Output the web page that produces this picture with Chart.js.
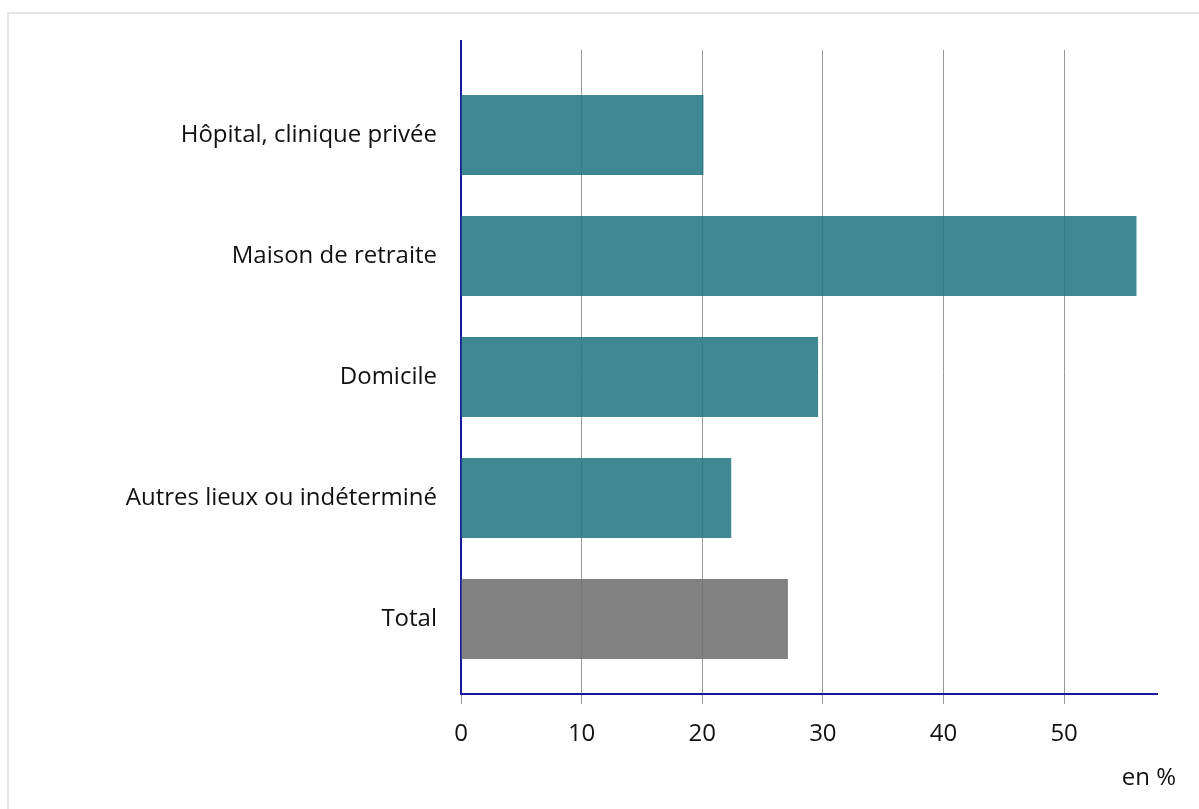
<!DOCTYPE html>
<html lang="fr">
<head>
<meta charset="utf-8">
<title>Lieu de décès</title>
<script src="https://cdn.jsdelivr.net/npm/chart.js@4/dist/chart.umd.min.js"></script>
<style>
    html, body { margin: 0; padding: 0; background: #fff; }
    body { width: 1199px; height: 809px; overflow: hidden; position: relative; }
    .frame {
        position: absolute; left: 7px; top: 12px; width: 1200px; height: 800px;
        border-left: 2px solid #e6e6e6; border-top: 2px solid #e6e6e6;
    }
    #chartWrap { position: absolute; left: 0; top: 0; width: 1199px; height: 809px; }
</style>
</head>
<body>
<div class="frame"></div>
<div id="chartWrap"><canvas id="chart" width="1199" height="809"></canvas></div>
<script>
const categories = ['Hôpital, clinique privée', 'Maison de retraite', 'Domicile', 'Autres lieux ou indéterminé', 'Total'];
const values = [20.1, 56.0, 29.6, 22.4, 27.1];
const xTicks = [0, 10, 20, 30, 40, 50];
const xMax = 57.7;
const unitLabel = 'en %';

const teal = 'rgba(36, 118, 130, 0.88)';
const grey = 'rgba(115, 115, 115, 0.9)';
const axisBlue = '#1a1aa0';

Chart.defaults.font.family = '"Open Sans", "Noto Sans", sans-serif';
Chart.defaults.font.size = 24;
Chart.defaults.color = '#111';

const extras = {
    id: 'extras',
    afterDraw(chart) {
        const ctx = chart.ctx;
        const area = chart.chartArea;
        ctx.save();
        // axe vertical qui dépasse un peu en haut
        ctx.strokeStyle = axisBlue;
        ctx.lineWidth = 2;
        ctx.beginPath();
        ctx.moveTo(area.left, area.top - 10);
        ctx.lineTo(area.left, area.top);
        ctx.stroke();
        // unité
        ctx.fillStyle = '#111';
        ctx.font = '24px "Open Sans", "Noto Sans", sans-serif';
        ctx.textAlign = 'right';
        ctx.textBaseline = 'middle';
        ctx.fillText(unitLabel, 1176, 778);
        ctx.restore();
    }
};

new Chart(document.getElementById('chart'), {
    type: 'bar',
    data: {
        datasets: [{
            data: values.map((v, i) => ({ x: v, y: i })),
            backgroundColor: values.map((v, i) => i === values.length - 1 ? grey : teal),
            borderWidth: 0,
            barPercentage: 0.66,
            categoryPercentage: 1
        }]
    },
    options: {
        indexAxis: 'y',
        responsive: false,
        animation: false,
        maintainAspectRatio: false,
        layout: { padding: { left: 0, right: 42, top: 50, bottom: 0 } },
        plugins: { legend: { display: false }, tooltip: { enabled: false } },
        scales: {
            x: {
                type: 'linear',
                min: 0,
                max: xMax,
                afterBuildTicks: s => { s.ticks = xTicks.map(v => ({ value: v })); },
                afterFit: s => { s.height = 115; },
                grid: { color: '#999', lineWidth: 1, tickLength: 10 },
                border: { color: axisBlue, width: 2 },
                ticks: { padding: 16, color: '#111' }
            },
            y: {
                type: 'linear',
                reverse: true,
                offset: false,
                min: -0.702,
                max: 4.62,
                afterBuildTicks: s => { s.ticks = categories.map((c, i) => ({ value: i })); },
                afterFit: s => { s.width = 461; },
                grid: { display: false },
                border: { color: axisBlue, width: 2 },
                ticks: {
                    padding: 16,
                    color: '#111',
                    callback: v => categories[v]
                }
            }
        }
    },
    plugins: [extras]
});
</script>
</body>
</html>
